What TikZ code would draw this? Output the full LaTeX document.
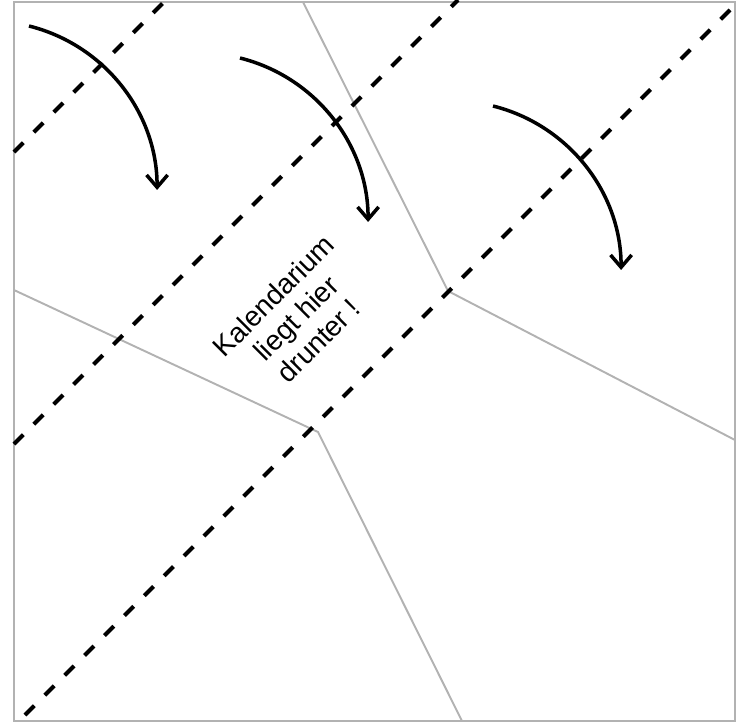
\documentclass[tikz,border=0pt]{standalone}
\usepackage{fontspec}
\setmainfont{Liberation Sans}
\usetikzlibrary{arrows.meta}

\begin{document}
\begin{tikzpicture}[x=0.02cm,y=-0.02cm,
    frame/.style={color=gray!60,line width=1.1pt},
    fold/.style={line width=2.3pt,dash pattern=on 7.5pt off 8.5pt},
    turn/.style={line width=2pt,-{Straight Barb[length=7pt,width=12pt]}}]
        \useasboundingbox (0,0) rectangle (742,725) ;
        % sheet and cut lines
        \draw[frame] (14,2) rectangle (735,721) ;
        \draw[frame] (303,2) -- (448,291) -- (735,440) ;
        \draw[frame] (14,290) -- (318,432) -- (462,721) ;
        % fold lines
        \draw[fold] (14,152) -- (166,0) ;
        \draw[fold] (14,444) -- (458,0) ;
        \draw[fold] (25,715) -- (731,9) ;
        % folding direction
        \draw[turn] (29,26) arc[start angle=76,end angle=0,radius=3.38cm] ;
        \draw[turn] (240,58) arc[start angle=76,end angle=0,radius=3.38cm] ;
        \draw[turn] (493,106) arc[start angle=76,end angle=0,radius=3.38cm] ;
        \node[rotate=45,align=center,font=\fontsize{16}{18}\selectfont] (hint) at (296,318)
          {Kalendarium\\liegt hier\\drunter !} ;
      \end{tikzpicture}
\end{document}
